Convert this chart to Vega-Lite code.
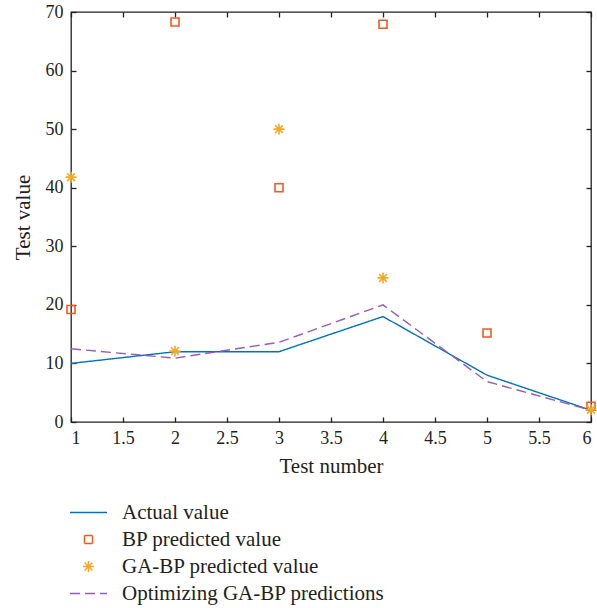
{
  "$schema": "https://vega.github.io/schema/vega-lite/v6.json",
  "width": 520,
  "height": 410,
  "autosize": {"type": "none"},
  "padding": {"left": 71, "top": 12, "right": 6, "bottom": 186},
  "config": {
    "font": "Liberation Serif",
    "view": {"stroke": "#231F20", "strokeWidth": 1.3},
    "axis": {
      "domainColor": "#231F20", "tickColor": "#231F20", "labelColor": "#231F20", "titleColor": "#231F20",
      "labelFont": "Liberation Serif", "titleFont": "Liberation Serif",
      "labelFontSize": 18, "titleFontSize": 21, "titleFontWeight": "normal",
      "grid": false, "domain": false, "ticks": true, "tickSize": 5, "tickWidth": 1.3, "offset": -5
    },
    "legend": {"labelFont": "Liberation Serif", "labelFontSize": 21, "labelColor": "#231F20", "labelLimit": 500}
  },
  "data": {
    "values": [
      {"x": 1, "y": 10, "series": "Actual value"},
      {"x": 2, "y": 12, "series": "Actual value"},
      {"x": 3, "y": 12, "series": "Actual value"},
      {"x": 4, "y": 18, "series": "Actual value"},
      {"x": 5, "y": 8, "series": "Actual value"},
      {"x": 6, "y": 2, "series": "Actual value"},
      {"x": 1, "y": 19.2, "series": "BP predicted value"},
      {"x": 2, "y": 68.3, "series": "BP predicted value"},
      {"x": 3, "y": 40, "series": "BP predicted value"},
      {"x": 4, "y": 67.9, "series": "BP predicted value"},
      {"x": 5, "y": 15.2, "series": "BP predicted value"},
      {"x": 6, "y": 2.7, "series": "BP predicted value"},
      {"x": 1, "y": 41.8, "series": "GA-BP predicted value"},
      {"x": 2, "y": 12.1, "series": "GA-BP predicted value"},
      {"x": 3, "y": 50, "series": "GA-BP predicted value"},
      {"x": 4, "y": 24.6, "series": "GA-BP predicted value"},
      {"x": 6, "y": 2.1, "series": "GA-BP predicted value"},
      {"x": 1, "y": 12.5, "series": "Optimizing GA-BP predictions"},
      {"x": 2, "y": 10.9, "series": "Optimizing GA-BP predictions"},
      {"x": 3, "y": 13.6, "series": "Optimizing GA-BP predictions"},
      {"x": 4, "y": 20, "series": "Optimizing GA-BP predictions"},
      {"x": 5, "y": 6.9, "series": "Optimizing GA-BP predictions"},
      {"x": 6, "y": 2, "series": "Optimizing GA-BP predictions"}
    ]
  },
  "resolve": {"axis": {"x": "independent", "y": "independent"}},
  "layer": [
    {
      "transform": [{"filter": {"field": "series", "oneOf": ["Actual value", "Optimizing GA-BP predictions"]}}],
      "mark": {"type": "line", "strokeWidth": 1.4, "clip": true},
      "encoding": {
        "x": {"field": "x", "type": "quantitative", "scale": {"domain": [1, 6], "nice": false, "zero": false},
              "axis": {"orient": "bottom", "title": "Test number", "values": [1, 1.5, 2, 2.5, 3, 3.5, 4, 4.5, 5, 5.5, 6], "format": "~g", "labelPadding": 7, "titlePadding": 8}},
        "y": {"field": "y", "type": "quantitative", "scale": {"domain": [0, 70], "nice": false, "zero": true},
              "axis": {"orient": "left", "title": "Test value", "values": [0, 10, 20, 30, 40, 50, 60, 70], "labelPadding": 8, "titlePadding": 12}},
        "color": {"field": "series", "type": "nominal",
                  "scale": {"domain": ["Actual value", "BP predicted value", "GA-BP predicted value", "Optimizing GA-BP predictions"],
                            "range": ["#0072BD", "#EE5A24", "#F7A823", "#9B59B6"]},
                  "legend": {"orient": "none", "legendX": 7, "legendY": 490, "title": null, "labelOffset": 23, "rowPadding": 5, "symbolStrokeWidth": 1.5, "symbolSize": 100}},
        "strokeDash": {"field": "series", "type": "nominal",
                       "scale": {"domain": ["Actual value", "BP predicted value", "GA-BP predicted value", "Optimizing GA-BP predictions"],
                                 "range": [[1, 0], [1, 0], [1, 0], [10, 5]]}}
      }
    },
    {
      "transform": [{"filter": {"field": "series", "oneOf": ["BP predicted value", "GA-BP predicted value"]}}],
      "mark": {"type": "point", "filled": false, "strokeWidth": 1.6, "opacity": 1, "size": 100},
      "encoding": {
        "x": {"field": "x", "type": "quantitative", "axis": null},
        "y": {"field": "y", "type": "quantitative", "axis": null},
        "color": {"field": "series", "type": "nominal"},
        "shape": {"field": "series", "type": "nominal",
                  "scale": {"domain": ["Actual value", "BP predicted value", "GA-BP predicted value", "Optimizing GA-BP predictions"],
                            "range": ["M-3.7,0L3.7,0", "M-0.8,-0.8H0.8V0.8H-0.8Z", "M-1.1,0L1.1,0M0,-1.1L0,1.1M-0.78,-0.78L0.78,0.78M-0.78,0.78L0.78,-0.78", "M-3.7,0L3.7,0"]}}
      }
    },
    {
      "mark": {"type": "point", "opacity": 0},
      "encoding": {
        "x": {"field": "x", "type": "quantitative", "axis": {"orient": "top", "title": null, "labels": false, "values": [1, 1.5, 2, 2.5, 3, 3.5, 4, 4.5, 5, 5.5, 6]}},
        "y": {"field": "y", "type": "quantitative", "axis": {"orient": "right", "title": null, "labels": false, "values": [0, 10, 20, 30, 40, 50, 60, 70]}}
      }
    }
  ]
}
